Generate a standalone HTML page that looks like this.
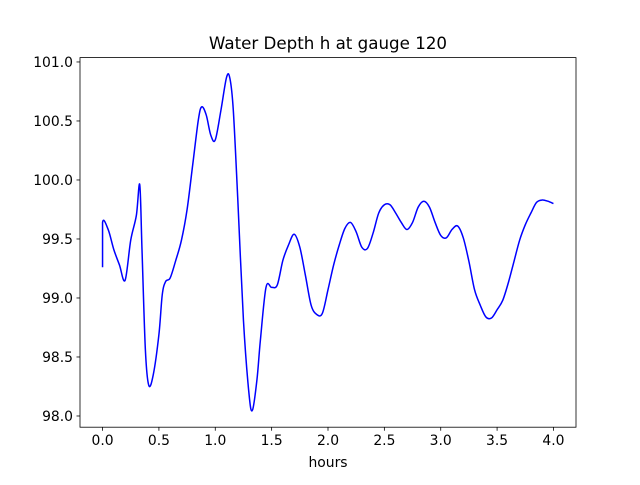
<!DOCTYPE html>
<html><head><meta charset="utf-8"><style>
body{margin:0;background:#fff;}
svg{font-family:"DejaVu Sans","Liberation Sans",sans-serif;}
</style></head><body>
<svg id="chart" width="640" height="480" viewBox="0 0 640 480">
<rect width="640" height="480" fill="#fff"/>
<text x="328" y="49" font-size="16.7" text-anchor="middle">Water Depth h at gauge 120</text>
<g id="plot"></g>
<rect x="80" y="57.6" width="496" height="369.6" fill="none" stroke="#000" stroke-width="0.8"/>
<text x="328" y="467" font-size="13.9" text-anchor="middle">hours</text>
</svg>
<script>
const hours=[0,0,0.05,0.1,0.15,0.2,0.25,0.3,0.33,0.35,0.38,0.41,0.45,0.5,0.53,0.56,0.6,0.65,0.7,0.75,0.8,0.85,0.88,0.92,0.96,1.0,1.05,1.1,1.13,1.16,1.2,1.25,1.3,1.33,1.37,1.4,1.45,1.5,1.55,1.6,1.65,1.7,1.75,1.8,1.85,1.9,1.95,2.0,2.05,2.1,2.15,2.2,2.25,2.3,2.35,2.4,2.45,2.5,2.55,2.6,2.65,2.7,2.75,2.8,2.85,2.9,2.95,3.0,3.05,3.1,3.15,3.2,3.25,3.3,3.35,3.4,3.45,3.5,3.55,3.6,3.65,3.7,3.75,3.8,3.85,3.9,3.95,4.0];
const depth=[99.26,99.64,99.58,99.41,99.28,99.15,99.49,99.70,99.96,99.41,98.56,98.26,98.35,98.69,99.03,99.14,99.17,99.32,99.49,99.75,100.13,100.51,100.62,100.55,100.38,100.34,100.59,100.87,100.86,100.59,99.83,98.81,98.18,98.05,98.31,98.64,99.09,99.09,99.11,99.32,99.45,99.54,99.43,99.19,98.94,98.86,98.87,99.07,99.28,99.45,99.59,99.64,99.56,99.43,99.42,99.55,99.72,99.79,99.79,99.72,99.64,99.58,99.64,99.77,99.82,99.77,99.64,99.53,99.51,99.58,99.61,99.51,99.31,99.07,98.94,98.84,98.83,98.90,98.98,99.13,99.31,99.49,99.62,99.72,99.81,99.83,99.82,99.80];
const xTicks=[0,0.5,1,1.5,2,2.5,3,3.5,4];
const xTickLabels=["0.0","0.5","1.0","1.5","2.0","2.5","3.0","3.5","4.0"];
const yTicks=[98,98.5,99,99.5,100,100.5,101];
const yTickLabels=["98.0","98.5","99.0","99.5","100.0","100.5","101.0"];
const L=80,R=576,T=57.6,B=427.2;
const xmin=-0.2,xmax=4.2;
const y0=97.905,y1=101.037;
const sx=v=>L+(v-xmin)/(xmax-xmin)*(R-L);
const sy=v=>B-(v-y0)/(y1-y0)*(B-T);
const NS="http://www.w3.org/2000/svg";
const g=document.getElementById('plot');
function mk(t,a){const e=document.createElementNS(NS,t);for(const k in a)e.setAttribute(k,a[k]);return e;}
xTicks.forEach((v,i)=>{
 const x=sx(v);
 const tk=mk('line',{x1:x,x2:x,y1:B,y2:B+3.5,stroke:'#000','stroke-width':0.8});
 
 
 g.appendChild(tk);
 const tx=mk('text',{x:x,y:B+18,'font-size':13.9,'text-anchor':'middle'});
 
 
 tx.textContent=xTickLabels[i];g.appendChild(tx);
});
yTicks.forEach((v,i)=>{
 const y=sy(v);
 const tk=mk('line',{x1:L-3.5,x2:L,y1:y,y2:y,stroke:'#000','stroke-width':0.8});
 
 
 g.appendChild(tk);
 const tx=mk('text',{x:L-7,y:y+5,'font-size':13.9,'text-anchor':'end'});
 
 
 tx.textContent=yTickLabels[i];g.appendChild(tx);
});
const P=hours.map((h,i)=>[sx(h),sy(depth[i])]);
let d='M'+P[0][0].toFixed(2)+','+P[0][1].toFixed(2);
for(let i=0;i<P.length-1;i++){
 const p0=P[Math.max(0,i-1)],p1=P[i],p2=P[i+1],p3=P[Math.min(P.length-1,i+2)];
 const c1=[p1[0]+(p2[0]-p0[0])/6,p1[1]+(p2[1]-p0[1])/6];
 const c2=[p2[0]-(p3[0]-p1[0])/6,p2[1]-(p3[1]-p1[1])/6];
 if(i===0){d+=' L'+p2[0].toFixed(2)+','+p2[1].toFixed(2);continue;}
 d+=' C'+c1.map(n=>n.toFixed(2)).join(',')+' '+c2.map(n=>n.toFixed(2)).join(',')+' '+p2[0].toFixed(2)+','+p2[1].toFixed(2);
}
const line=mk('path',{d:d,fill:'none',stroke:'#0000ff','stroke-width':1.5,'stroke-linejoin':'round'});


g.appendChild(line);
</script>
</body></html>
